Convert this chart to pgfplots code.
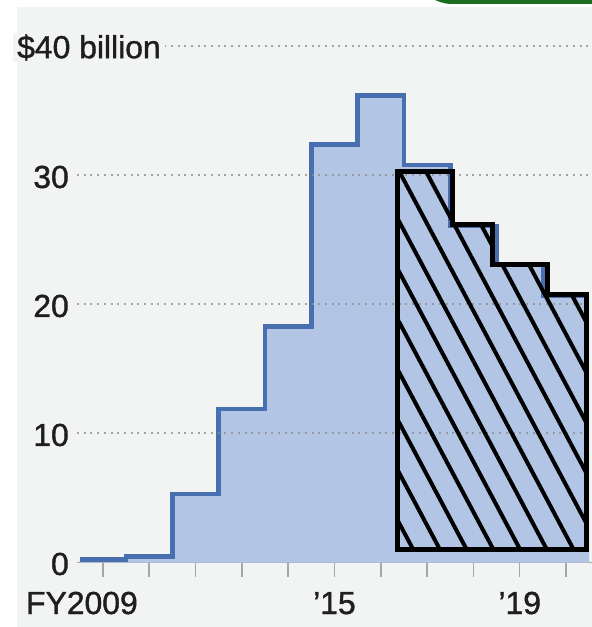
\documentclass[border=0pt]{standalone}
\usepackage{fontspec}
\setmainfont{Liberation Sans}
\newfontfamily\lbl{Liberation Sans}[FakeBold=1.2]
\usepackage{pgfplots}
\pgfplotsset{compat=1.18}
\usetikzlibrary{patterns.meta}
\definecolor{bg}{HTML}{F2F3F3}
\definecolor{fillblue}{HTML}{B3C5E4}
\definecolor{lineblue}{HTML}{4870B0}
\definecolor{darkgreen}{HTML}{1A6E1E}
\definecolor{txt}{HTML}{1E1E1E}
\definecolor{gridc}{HTML}{8C8C8C}
\begin{document}
\begin{tikzpicture}
\useasboundingbox (0bp,0bp) rectangle (592bp,627bp);
\fill[white] (0bp,0bp) rectangle (592bp,627bp);
\fill[bg] (17bp,0bp) rectangle (592bp,620bp);
\fill[darkgreen] (435bp,627bp) .. controls (445bp,623bp) .. (462bp,623bp) -- (592bp,623bp) -- (592bp,627bp) -- cycle;
\begin{axis}[
  at={(77bp,64.5bp)}, anchor=south west,
  scale only axis, width=515bp, height=516bp,
  xmin=2008.44, xmax=2019.56, ymin=0, ymax=40,
  axis x line*=bottom, axis y line*=left,
  x axis line style={draw=gray!70, line width=1.5bp, -},
  y axis line style={draw=none},
  xtick={2009,...,2019},
  xticklabels={{\hspace*{-42bp}FY2009},,,,,’15,,,,’19},
  ytick={0,10,20,30},
  yticklabels={0,10,20,30},
  tick align=outside, major tick length=14bp,
  xtick style={draw=gray!70, line width=1.5bp},
  ytick style={draw=none},
  ticklabel style={font=\lbl\fontsize{32}{36}\selectfont, text=txt, inner sep=0pt},
  xticklabel style={anchor=base, yshift=-37.5bp},
  yticklabel style={anchor=east, xshift=6bp, yshift=-1.5bp},
  clip=false,
]
% blue step area (values by fiscal year, steps centred on each year)
\addplot[const plot mark left, fill=fillblue, draw=none] coordinates {
  (2008.5,0.25) (2009.5,0.45) (2010.5,5.3) (2011.5,11.9) (2012.5,18.3)
  (2013.5,32.4) (2014.5,36.2) (2015.5,30.8) (2016.5,26.1) (2017.5,23.1)
  (2018.5,20.7) (2019.5,20.7)} \closedcycle;
\addplot[const plot mark left, draw=lineblue, line width=4.5bp, mark=none] coordinates {
  (2008.5,0.25) (2009.5,0.45) (2010.5,5.3) (2011.5,11.9) (2012.5,18.3)
  (2013.5,32.4) (2014.5,36.2) (2015.5,30.8) (2016.5,26.1) (2017.5,23.1)
  (2018.5,20.7) (2019.5,20.7)};
% dotted grid
\foreach \g in {10,20,30,40} {
  \edef\tmp{\noexpand\draw[gridc, opacity=0.75, line width=2bp, dash pattern=on 2bp off 4.7bp]
    (axis cs:2008.44,\g) -- (axis cs:2019.56,\g);}
  \tmp
}
% hatched projection
\addplot[draw=black, line width=5bp, pattern={Lines[angle=-62,distance=23.6bp,line width=4bp]}, pattern color=black] coordinates {
  (2015.37,0.97) (2015.37,30.3) (2016.54,30.3) (2016.54,26.2) (2017.42,26.2)
  (2017.42,23.1) (2018.59,23.1) (2018.59,20.8) (2019.45,20.8) (2019.45,0.97)} -- cycle;
\node[anchor=west, fill=bg, inner xsep=4bp, inner ysep=2bp, text=txt,
  font=\lbl\fontsize{32}{36}\selectfont, xshift=-64bp, yshift=-1bp] at (axis cs:2008.44,40) {\$40 billion};
\end{axis}
\end{tikzpicture}
\end{document}
